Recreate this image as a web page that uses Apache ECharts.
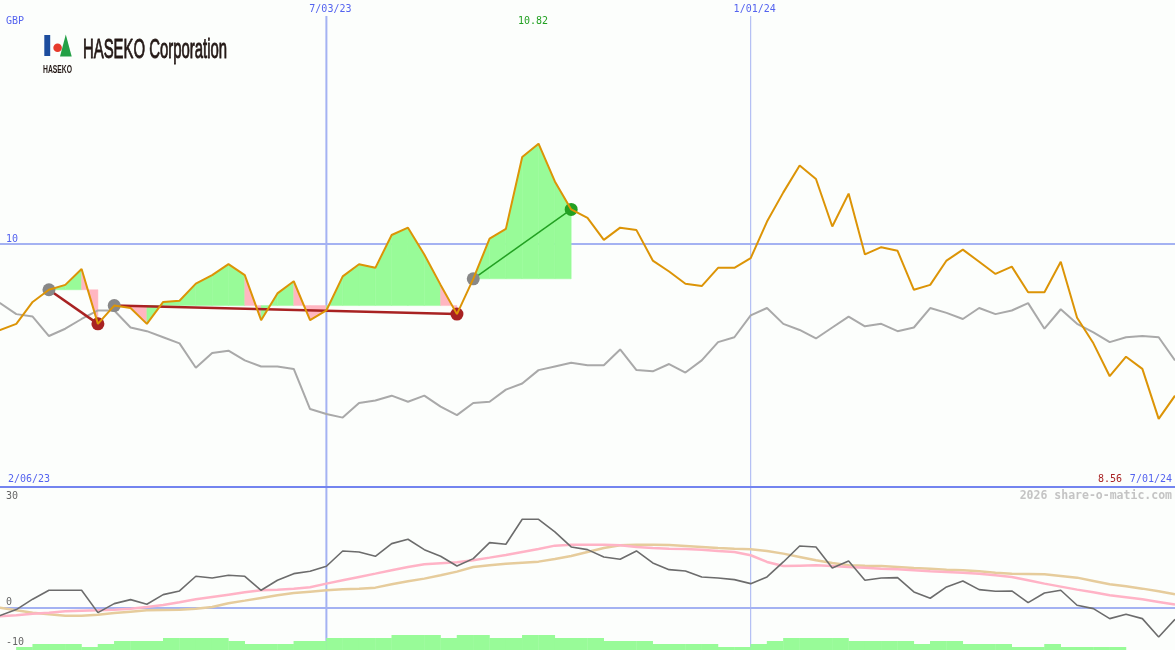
<!DOCTYPE html>
<html><head><meta charset="utf-8">
<script src="https://cdn.jsdelivr.net/npm/echarts@6/dist/echarts.min.js"></script>
<style>html,body{margin:0;padding:0;background:#fcfefc;overflow:hidden}#c{width:1175px;height:650px}</style>
</head><body><div id="c"></div>
<script>
// ---- data ----
const dates = ['2/06/23','2/13/23','2/20/23','2/27/23','3/06/23','3/13/23','3/20/23','3/27/23','4/03/23','4/10/23',
 '4/17/23','4/24/23','5/01/23','5/08/23','5/15/23','5/22/23','5/29/23','6/05/23','6/12/23','6/19/23',
 '6/26/23','7/03/23','7/10/23','7/17/23','7/24/23','7/31/23','8/07/23','8/14/23','8/21/23','8/28/23',
 '9/04/23','9/11/23','9/18/23','9/25/23','10/02/23','10/09/23','10/16/23','10/23/23','10/30/23','11/06/23',
 '11/13/23','11/20/23','11/27/23','12/04/23','12/11/23','12/18/23','12/25/23','1/01/24','1/08/24','1/15/24',
 '1/22/24','1/29/24','2/05/24','2/12/24','2/19/24','2/26/24','3/04/24','3/11/24','3/18/24','3/25/24',
 '4/01/24','4/08/24','4/15/24','4/22/24','4/29/24','5/06/24','5/13/24','5/20/24','5/27/24','6/03/24',
 '6/10/24','6/17/24','6/24/24','7/01/24'];
const price = [9.26, 9.29, 9.34, 9.52, 9.62, 9.66, 9.79, 9.34, 9.49, 9.47,
 9.34, 9.52, 9.53, 9.67, 9.74, 9.83, 9.74, 9.37, 9.59, 9.69,
 9.37, 9.45, 9.73, 9.83, 9.80, 10.07, 10.13, 9.91, 9.66, 9.42,
 9.71, 10.04, 10.12, 10.71, 10.82, 10.51, 10.28, 10.21, 10.03, 10.13,
 10.11, 9.86, 9.77, 9.67, 9.65, 9.80, 9.80, 9.88, 10.18, 10.42,
 10.64, 10.53, 10.14, 10.41, 9.91, 9.97, 9.94, 9.62, 9.66, 9.86,
 9.95, 9.85, 9.75, 9.81, 9.60, 9.60, 9.85, 9.39, 9.18, 8.91,
 9.07, 8.97, 8.56, 8.75];
const relative = [9.55, 9.51, 9.42, 9.40, 9.24, 9.30, 9.38, 9.45, 9.45, 9.31,
 9.28, 9.23, 9.18, 8.98, 9.10, 9.12, 9.04, 8.99, 8.99, 8.97,
 8.64, 8.60, 8.57, 8.69, 8.71, 8.75, 8.70, 8.75, 8.66, 8.59,
 8.69, 8.70, 8.80, 8.85, 8.96, 8.99, 9.02, 9.00, 9.00, 9.13,
 8.96, 8.95, 9.01, 8.94, 9.04, 9.19, 9.23, 9.41, 9.47, 9.34,
 9.29, 9.22, 9.31, 9.40, 9.32, 9.34, 9.28, 9.31, 9.47, 9.43,
 9.38, 9.47, 9.42, 9.45, 9.51, 9.30, 9.46, 9.34, 9.27, 9.19,
 9.23, 9.24, 9.23, 9.04];
const momentum = [-3.0, -1.9, -0.4, 2.2, 4.43, 4.43, 4.43, -1.16, 1.09, 2.09,
 0.93, 3.34, 4.26, 7.93, 7.51, 8.18, 7.93, 4.43, 6.93, 8.59,
 9.18, 10.43, 14.26, 14.01, 12.93, 16.09, 17.18, 14.59, 12.93, 10.51,
 12.34, 16.34, 15.93, 22.18, 22.18, 19.01, 15.26, 14.59, 12.76, 12.18,
 14.26, 11.26, 9.59, 9.26, 7.76, 7.51, 7.09, 6.09, 7.76, 11.51,
 15.51, 15.26, 10.01, 11.76, 6.93, 7.51, 7.59, 4.01, 2.43, 5.26,
 6.76, 4.59, 4.18, 4.26, 1.34, 3.76, 4.43, 0.68, -0.16, -2.66,
 -1.58, -2.66, -7.24, -2.83];
const fastAvg = [-2.24, -2.08, -1.83, -1.41, -1.16, -0.83, -0.66, -0.58, -0.41, -0.16,
 0.26, 0.76, 1.43, 2.18, 2.76, 3.34, 3.93, 4.43, 4.59, 4.84,
 5.18, 6.09, 6.93, 7.76, 8.59, 9.43, 10.26, 10.93, 11.18, 11.43,
 11.93, 12.59, 13.26, 14.01, 14.76, 15.59, 15.84, 15.84, 15.84, 15.68,
 15.26, 15.01, 14.84, 14.76, 14.59, 14.26, 14.01, 13.18, 11.51, 10.51,
 10.59, 10.68, 10.51, 10.26, 10.09, 9.84, 9.68, 9.43, 9.18, 9.01,
 8.84, 8.59, 8.18, 7.76, 6.93, 6.09, 5.34, 4.59, 3.93, 3.18,
 2.68, 2.18, 1.51, 0.84];
const slowAvg = [0.59, 0.09, -0.58, -1.16, -1.58, -1.91, -1.91, -1.66, -1.24, -0.91,
 -0.58, -0.49, -0.41, -0.16, 0.26, 1.18, 1.84, 2.51, 3.18, 3.76,
 4.09, 4.43, 4.68, 4.84, 5.09, 5.93, 6.68, 7.34, 8.18, 9.09,
 10.26, 10.68, 11.09, 11.34, 11.59, 12.26, 13.01, 14.01, 15.01, 15.68,
 15.84, 15.84, 15.76, 15.51, 15.26, 15.01, 14.84, 14.68, 14.26, 13.59,
 12.76, 11.93, 11.26, 10.68, 10.59, 10.51, 10.26, 10.01, 9.84, 9.59,
 9.43, 9.18, 8.84, 8.59, 8.51, 8.43, 8.01, 7.59, 6.76, 5.93,
 5.43, 4.84, 4.18, 3.43];
const volumeLevel = [0, 0, 1, 2, 2, 2, 1, 2, 3, 3,
 3, 4, 4, 4, 4, 3, 2, 2, 2, 3,
 3, 4, 4, 4, 4, 5, 5, 5, 4, 5,
 5, 4, 4, 5, 5, 4, 4, 4, 3, 3,
 3, 2, 2, 2, 2, 1, 1, 2, 3, 4,
 4, 4, 4, 3, 3, 3, 3, 2, 3, 3,
 2, 2, 2, 1, 1, 2, 1, 1, 1, 1,
 0, 0, 0, 0];
const tradeEntry = [4, 8, 30];
const tradeExit = [7, 29, 36];
const priceTicks = [10];
const lowerTicks = [30, 0, -10];
const markDates = ['7/03/23', '1/01/24'];
const currency = 'GBP';
const company = 'HASEKO Corporation';
const brand = 'HASEKO';
const credit = '2026 share-o-matic.com';

// ---- chart ----
const GREEN = '#98fb98', PINK = '#ffb6c1', WIN = '#22a022', LOSS = '#a82222';
const pairs = a => a.map((v, i) => [i, v]);
const fillData = [];
tradeEntry.forEach((s, t) => {
  const e = tradeExit[t], base = price[s];
  for (let k = s; k < e; k++) fillData.push([k, base, price[k], price[k + 1]]);
});
const chart = echarts.init(document.getElementById('c'), null, {renderer: 'canvas'});
const lineCommon = {type: 'line', showSymbol: false, symbol: 'none', silent: true, animation: false, emphasis: {disabled: true}};
const series = [
  {type: 'custom', xAxisIndex: 0, yAxisIndex: 0, z: 1, silent: true, data: fillData,
   encode: {x: 0, y: [1, 2, 3]},
   renderItem: (params, api) => {
     const k = api.value(0), base = api.value(1), a = api.value(2), b = api.value(3);
     const pts = [api.coord([k, base]), api.coord([k, a]), api.coord([k + 1, b]), api.coord([k + 1, base])];
     const col = b >= base ? GREEN : PINK;
     return {type: 'polygon', shape: {points: pts}, style: {fill: col, stroke: col, lineWidth: 0.5}};
   }},
  Object.assign({}, lineCommon, {xAxisIndex: 0, yAxisIndex: 0, z: 2, data: pairs(relative), lineStyle: {color: '#a9a9a9', width: 2}}),
];
tradeEntry.forEach((s, t) => {
  const e = tradeExit[t], win = price[e] >= price[s];
  series.push(Object.assign({}, lineCommon, {xAxisIndex: 0, yAxisIndex: 0, z: 3,
    data: [[s, price[s]], [e, price[e]]], lineStyle: {color: win ? WIN : LOSS, width: win ? 1.5 : 2.5}}));
});
series.push({type: 'scatter', xAxisIndex: 0, yAxisIndex: 0, z: 4, silent: true, symbolSize: 13,
  data: tradeEntry.map(s => [s, price[s]]), itemStyle: {color: '#888888', opacity: 1}});
series.push({type: 'scatter', xAxisIndex: 0, yAxisIndex: 0, z: 4, silent: true, symbolSize: 13,
  data: tradeExit.map((e, t) => ({value: [e, price[e]], itemStyle: {color: price[e] >= price[tradeEntry[t]] ? WIN : LOSS, opacity: 1}}))});
series.push(Object.assign({}, lineCommon, {xAxisIndex: 0, yAxisIndex: 0, z: 5, data: pairs(price), lineStyle: {color: '#dc9406', width: 2}}));
// lower panel
series.push({type: 'bar', xAxisIndex: 1, yAxisIndex: 2, z: 2, silent: true, barWidth: 16.7,
  data: volumeLevel.map((v, k) => [k + 0.5, v]), itemStyle: {color: GREEN}});
series.push(Object.assign({}, lineCommon, {xAxisIndex: 1, yAxisIndex: 1, z: 3, data: pairs(slowAvg), lineStyle: {color: '#e6cc9c', width: 2.5}}));
series.push(Object.assign({}, lineCommon, {xAxisIndex: 1, yAxisIndex: 1, z: 3, data: pairs(fastAvg), lineStyle: {color: '#ffb3c6', width: 2.5}}));
series.push(Object.assign({}, lineCommon, {xAxisIndex: 1, yAxisIndex: 1, z: 4, data: pairs(momentum), lineStyle: {color: '#6c6c6c', width: 1.6}}));

chart.setOption({
  animation: false,
  backgroundColor: '#fcfefc',
  grid: [{left: 0, width: 1175, top: 0, height: 487}, {left: 0, width: 1175, top: 488, height: 162}],
  xAxis: [
    {type: 'value', gridIndex: 0, min: 1, max: 73, axisLine: {show: true, onZero: false, lineStyle: {color: '#7384ef', width: 2}},
     axisTick: {show: false}, axisLabel: {show: false}, splitLine: {show: false}},
    {type: 'value', gridIndex: 1, min: 1, max: 73, show: false, splitLine: {show: false}}
  ],
  yAxis: [
    {type: 'value', gridIndex: 0, min: 8, max: 12, show: false, splitLine: {show: false}},
    {type: 'value', gridIndex: 1, min: -10.5, max: 30, show: false, splitLine: {show: false}},
    {type: 'value', gridIndex: 1, min: 0, max: 54, show: false, splitLine: {show: false}}
  ],
  series: series
});

// ---- overlays placed through the axes ----
const P0 = v => chart.convertToPixel({xAxisIndex: 0, yAxisIndex: 0}, v);
const P1 = v => chart.convertToPixel({xAxisIndex: 1, yAxisIndex: 1}, v);
const MONO = '10px "DejaVu Sans Mono"';
const txt = (s, x, y, color, align, font) => ({type: 'text', x: x, y: y + 0.6, silent: true, z: 10,
  style: {text: s, fill: color, font: font || MONO, textAlign: align || 'left', textVerticalAlign: 'middle', align: align || 'left', verticalAlign: 'middle'}});
const g = [];
const GRIDC = '#a4b2f2', BLUE = '#5463ef';
priceTicks.forEach(t => {
  const y = Math.round(P0([1, t])[1]);
  g.push({type: 'line', silent: true, z: 0, shape: {x1: 0, y1: y, x2: 1175, y2: y}, style: {stroke: GRIDC, lineWidth: 2}});
  g.push(txt(String(t), 6, y - 5.5, BLUE, 'left'));
});
{
  const y = Math.round(P1([1, 0])[1]);
  g.push({type: 'line', silent: true, z: 0, shape: {x1: 0, y1: y, x2: 1175, y2: y}, style: {stroke: GRIDC, lineWidth: 2}});
}
lowerTicks.forEach(t => {
  const y = P1([1, t])[1];
  const cy = (y - 6 < 490) ? y + 7.5 : y - 6;
  g.push(txt(String(t), 6, cy, '#666666', 'left'));
});
markDates.forEach((d, j) => {
  const i = dates.indexOf(d);
  const x = P0([i, 10])[0];
  g.push({type: 'line', silent: true, z: 0, shape: {x1: x, y1: 16, x2: x, y2: 650}, style: {stroke: GRIDC, lineWidth: j === 0 ? 2 : 1}});
  g.push(txt(d, x + 4, 9, BLUE, 'center'));
});
const maxV = Math.max(...price), minV = Math.min(...price);
g.push(txt(maxV.toFixed(2), P0([price.indexOf(maxV), maxV])[0] - 5.5, 21, '#22a022', 'center'));
g.push(txt(currency, 6, 21, BLUE, 'left'));
g.push(txt(dates[0], 8, 478.5, BLUE, 'left'));
g.push(txt(dates[dates.length - 1], 1172, 478.5, BLUE, 'right'));
g.push(txt(minV.toFixed(2), 1122, 478.5, '#a82222', 'right'));
g.push(txt(credit, 1172, 495.5, '#c4c4c4', 'right', 'bold 11.5px "DejaVu Sans Mono"'));
// logo
const ctx = document.createElement('canvas').getContext('2d');
ctx.font = '28px "Liberation Sans"';
const wBig = ctx.measureText(company).width;
ctx.font = 'bold 11px "Liberation Sans"';
const wSmall = ctx.measureText(brand).width;
g.push({type: 'rect', silent: true, z: 10, shape: {x: 44.3, y: 35, width: 5.9, height: 21}, style: {fill: '#1d4d9e'}});
g.push({type: 'circle', silent: true, z: 10, shape: {cx: 57.6, cy: 47.8, r: 4.3}, style: {fill: '#e63b2c'}});
g.push({type: 'polygon', silent: true, z: 10, shape: {points: [[65.8, 34.5], [60, 56.5], [71.7, 56.5]]}, style: {fill: '#23a046'}});
g.push({type: 'text', silent: true, z: 10, x: 83, y: 50.3, scaleX: 144 / wBig,
  style: {text: company, fill: '#231815', stroke: '#231815', lineWidth: 0.9, font: '28px "Liberation Sans"', textVerticalAlign: 'middle', verticalAlign: 'middle', textAlign: 'left', align: 'left'}});
g.push({type: 'text', silent: true, z: 10, x: 43, y: 69.8, scaleX: 29 / wSmall,
  style: {text: brand, fill: '#231815', font: 'bold 11px "Liberation Sans"', textVerticalAlign: 'middle', verticalAlign: 'middle', textAlign: 'left', align: 'left'}});
chart.setOption({graphic: {elements: g}});
</script>
</body></html>
